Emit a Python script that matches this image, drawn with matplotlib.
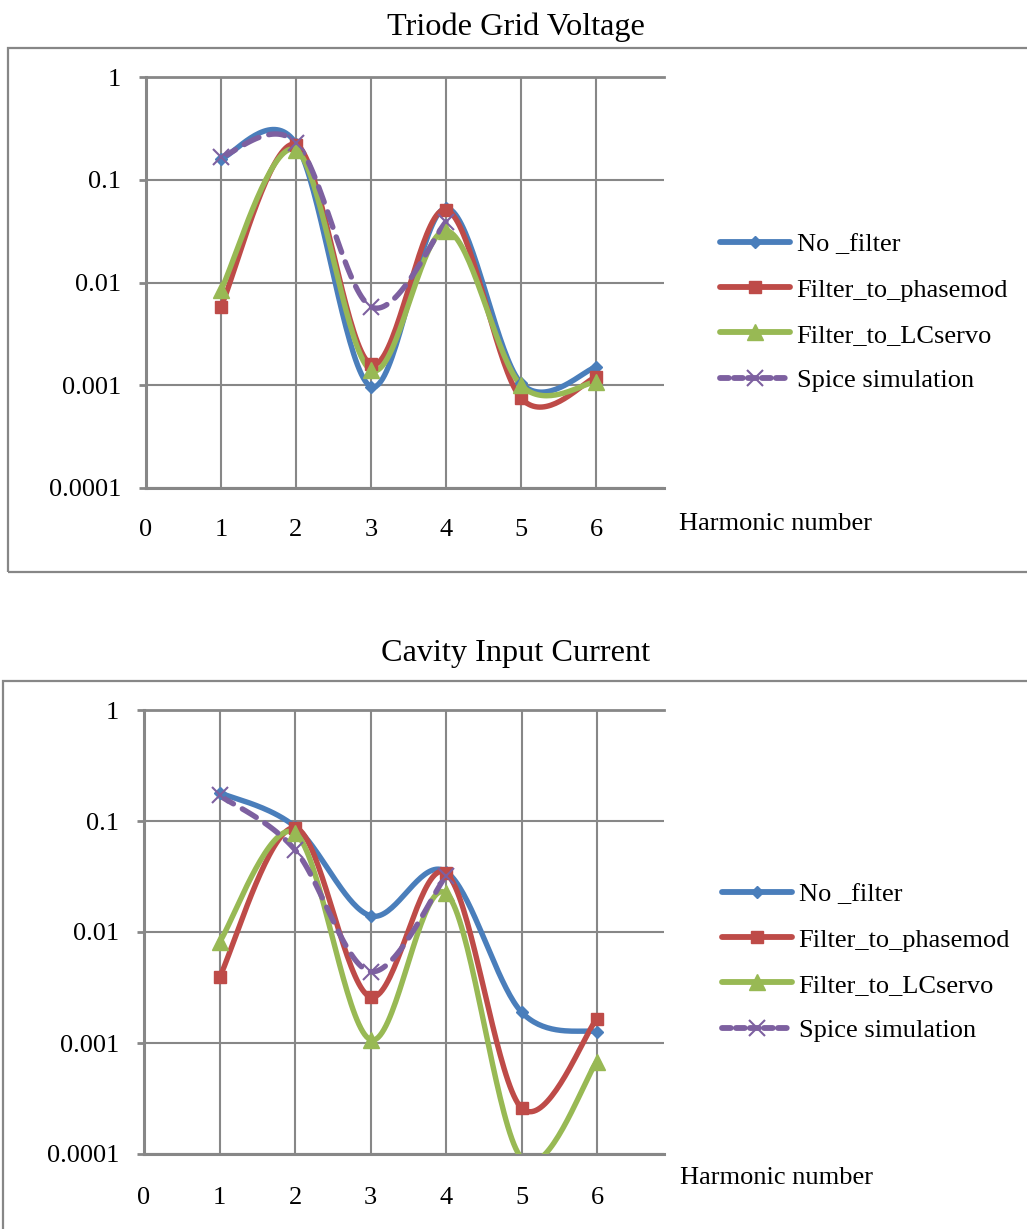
import numpy as np
import matplotlib
matplotlib.use("Agg")
import matplotlib.pyplot as plt
from matplotlib.lines import Line2D
from matplotlib.patches import Rectangle
from matplotlib.ticker import FixedLocator, FixedFormatter, NullLocator

plt.rcParams['font.family'] = ['Liberation Serif', 'DejaVu Serif']

harmonics = [1, 2, 3, 4, 5, 6]
spice_harmonics = [1, 2, 3, 4]
series_names = ["No _filter", "Filter_to_phasemod", "Filter_to_LCservo", "Spice simulation"]

# Triode Grid Voltage
grid_no_filter = [0.16, 0.225, 0.00097, 0.053, 0.00105, 0.0015]
grid_phasemod = [0.0058, 0.22, 0.0016, 0.051, 0.00075, 0.0012]
grid_lcservo = [0.0085, 0.195, 0.0014, 0.032, 0.001, 0.00108]
grid_spice = [0.166, 0.23, 0.0058, 0.039]

# Cavity Input Current
cav_no_filter = [0.18, 0.089, 0.014, 0.035, 0.0019, 0.00126]
cav_phasemod = [0.0039, 0.087, 0.0026, 0.034, 0.00026, 0.00166]
cav_lcservo = [0.0081, 0.078, 0.00107, 0.0224, 0.000092, 0.00068]
cav_spice = [0.17, 0.055, 0.0044, 0.032]

y_ticks = [1, 0.1, 0.01, 0.001, 0.0001]
y_tick_labels = ["1", "0.1", "0.01", "0.001", "0.0001"]
x_ticks = [0, 1, 2, 3, 4, 5, 6]
x_tick_labels = ["0", "1", "2", "3", "4", "5", "6"]

COLORS = ["#4A7EBB", "#BE4B48", "#98B954", "#7D60A0"]
GRAY = "#878787"
FS = 19
YMIN, YMAX = 0.0001, 1


def smooth(xs, ys, n=40):
    P = np.column_stack([np.asarray(xs, float), np.log10(np.asarray(ys, float))])
    out = []
    for i in range(len(P) - 1):
        p0 = P[i - 1] if i > 0 else P[i]
        p1, p2 = P[i], P[i + 1]
        p3 = P[i + 2] if i + 2 < len(P) else P[i + 1]
        c1 = p1 + (p2 - p0) / 6.0
        c2 = p2 - (p3 - p1) / 6.0
        t = np.linspace(0, 1, n)[:, None]
        seg = (1 - t) ** 3 * p1 + 3 * (1 - t) ** 2 * t * c1 + 3 * (1 - t) * t ** 2 * c2 + t ** 3 * p2
        out.append(seg if i == 0 else seg[1:])
    pts = np.vstack(out)
    return pts[:, 0], 10 ** pts[:, 1]


MARKERS = [dict(marker="D", ms=6), dict(marker="s", ms=8), dict(marker="^", ms=12),
           dict(marker="x", ms=11, mew=1.5)]
LW = 3.9


def draw(ax, series, xmax):
    for k, (xs, ys) in enumerate(series):
        sx, sy = smooth(xs, ys)
        ls = (0, (3.0, 1.9)) if k == 3 else "-"
        ax.plot(sx, sy, color=COLORS[k], lw=LW, ls=ls, solid_capstyle="round",
                dash_capstyle="round", zorder=3 + k * 0.1)
        # like the original, points outside the axis range get no marker
        mx = [x for x, y in zip(xs, ys) if YMIN <= y <= YMAX]
        my = [y for y in ys if YMIN <= y <= YMAX]
        ax.plot(mx, my, ls="none", color=COLORS[k], zorder=4 + k * 0.1, **dict(MARKERS[k]))
    ax.set_yscale("log")
    ax.set_ylim(YMIN, YMAX)
    ax.set_xlim(0, xmax)
    ax.yaxis.set_major_locator(FixedLocator(y_ticks))
    ax.yaxis.set_major_formatter(FixedFormatter(y_tick_labels))
    ax.yaxis.set_minor_locator(NullLocator())
    ax.xaxis.set_major_locator(FixedLocator(x_ticks))
    ax.xaxis.set_major_formatter(FixedFormatter(x_tick_labels))
    ax.grid(True, color=GRAY, lw=1.5, zorder=1)
    ax.set_axisbelow(True)
    ax.spines["right"].set_visible(False)
    ax.spines["top"].set_color(GRAY)
    ax.spines["top"].set_linewidth(2.0)
    for s in ["left", "bottom"]:
        ax.spines[s].set_color(GRAY)
        ax.spines[s].set_linewidth(2.2)
    ax.tick_params(axis="y", direction="out", length=5, width=2, color=GRAY,
                   pad=13, labelsize=FS)


def legend(fig, x, y):
    handles = []
    for k in range(4):
        ls = (0, (1.5, 0.9)) if k == 3 else "-"
        handles.append(Line2D([], [], color=COLORS[k], lw=LW + 0.3, ls=ls,
                              solid_capstyle="round", dash_capstyle="round", **dict(MARKERS[k])))
    fig.legend(handles, series_names, loc="upper left", bbox_to_anchor=(x, y),
               bbox_transform=fig.transFigure, frameon=False, fontsize=FS,
               handlelength=2.65, handletextpad=0.25, labelspacing=0.82,
               borderpad=0, borderaxespad=0)


W, H = 1027, 1229
fig = plt.figure(figsize=(W / 100, H / 100), dpi=100)


def fx(p):
    return p / W


def fy(p):
    return 1 - p / H


# frames
fig.patches.append(Rectangle((fx(8), fy(572)), 1.2, (572 - 48) / H, transform=fig.transFigure,
                             fill=False, edgecolor=GRAY, lw=1.6, zorder=0))
fig.patches.append(Rectangle((fx(3), fy(1300)), 1.2, (1300 - 681) / H, transform=fig.transFigure,
                             fill=False, edgecolor=GRAY, lw=1.6, zorder=0))

ax1 = fig.add_axes([fx(146), fy(488), (664 - 146) / W, (488 - 77) / H])
draw(ax1, [(harmonics, grid_no_filter), (harmonics, grid_phasemod),
           (harmonics, grid_lcservo), (spice_harmonics, grid_spice)], 518 / 75.0)
ax1.tick_params(axis="x", length=0, pad=22, labelsize=FS)
ax2 = fig.add_axes([fx(144), fy(1154), (664 - 144) / W, (1154 - 710) / H])
draw(ax2, [(harmonics, cav_no_filter), (harmonics, cav_phasemod),
           (harmonics, cav_lcservo), (spice_harmonics, cav_spice)], 520 / 75.5)
ax2.tick_params(axis="x", length=0, pad=24, labelsize=FS)

fig.text(fx(516), fy(27), "Triode Grid Voltage", fontsize=23.2, ha="center", va="center")
fig.text(fx(516), fy(653), "Cavity Input Current", fontsize=23.2, ha="center", va="center")
fig.text(fx(679), fy(524), "Harmonic number", fontsize=FS, ha="left", va="center")
fig.text(fx(680), fy(1178), "Harmonic number", fontsize=FS, ha="left", va="center")

legend(fig, fx(720), fy(233))
legend(fig, fx(722), fy(883))

fig.savefig("out.png", dpi=100)
